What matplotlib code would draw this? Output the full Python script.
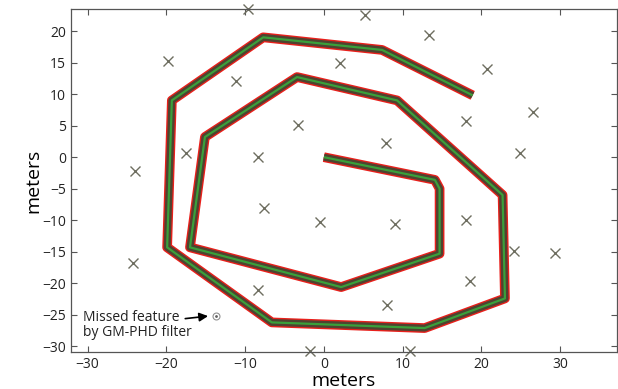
import matplotlib
matplotlib.use("Agg")
import matplotlib.pyplot as plt
import numpy as np

plt.rcParams['font.family'] = ['Open Sans', 'DejaVu Sans']

# robot trajectory (spiral), meters
path_x = [0.0, 14.1, 14.7, 14.7, 2.2, -17.0, -15.1, -3.4, 9.3, 22.7, 23.0,
          12.8, -6.6, -19.9, -19.3, -7.7, 7.4, 18.9]
path_y = [0.0, -3.6, -5.0, -15.3, -20.6, -14.3, 3.2, 12.7, 9.0, -6.0, -22.4,
          -27.1, -26.2, -14.3, 9.0, 19.0, 17.0, 9.8]

# landmark positions
lm_x = [-9.6, 5.2, 13.3, -19.8, 2.0, -11.2, 20.7, 26.5, -3.3, 18.1, -17.5,
        -8.4, 7.9, -24.0, 24.9, -7.6, -0.5, 9.1, 18.1, -24.2, 24.2, 29.3,
        18.5, -8.4, 8.0, -1.8, 10.9]
lm_y = [23.5, 22.5, 19.4, 15.2, 14.9, 12.1, 14.0, 7.1, 5.1, 5.7, 0.6,
        0.0, 2.2, -2.2, 0.6, -8.1, -10.3, -10.6, -10.0, -16.8, -14.9, -15.2,
        -19.7, -21.0, -23.5, -30.8, -30.8]

missed = (-13.7, -25.2)

fig = plt.figure(figsize=(6.18, 3.89), dpi=100)
ax = fig.add_axes([0.115, 0.095, 0.883, 0.882])

# thick red, dark band, green centre
ax.plot(path_x, path_y, color='#e8201c', lw=7, solid_joinstyle='round',
        solid_capstyle='butt')
ax.plot(path_x, path_y, color='#4f4330', lw=5, solid_joinstyle='round',
        solid_capstyle='butt')
ax.plot(path_x, path_y, color='#3aa03a', lw=1.6, solid_joinstyle='round',
        solid_capstyle='butt')

ax.plot(lm_x, lm_y, ls='none', marker='x', ms=7, mew=1.0, color='#6e6e60',
        clip_on=False)

ax.plot(*missed, ls='none', marker='o', ms=5, mfc='white', mec='#909090',
        mew=0.8)
ax.plot(*missed, ls='none', marker='.', ms=2, color='#606060')

ax.text(-30.6, -26.6, 'Missed feature\nby GM-PHD filter', fontsize=10,
        ha='left', va='center', color='#222222', linespacing=1.05)
ax.annotate('', xy=(missed[0] - 1.0, missed[1]), xytext=(-17.6, -25.6),
            arrowprops=dict(arrowstyle='-|>', color='black', lw=1.2,
                            mutation_scale=13, shrinkA=0, shrinkB=0))

ax.set_xlim(-32.1, 37.2)
ax.set_ylim(-30.9, 23.5)
ax.set_xticks([-30, -20, -10, 0, 10, 20, 30])
ax.set_yticks([-30, -25, -20, -15, -10, -5, 0, 5, 10, 15, 20])
ax.tick_params(direction='in', top=True, right=True, length=4, width=0.8,
               color='#555555', labelsize=10, labelcolor='#222222')
for s in ax.spines.values():
    s.set_color('#555555')
    s.set_linewidth(0.9)

ax.set_xlabel('meters', fontsize=14, labelpad=0)
ax.set_ylabel('meters', fontsize=14, labelpad=0)

fig.savefig('out.png', dpi=100)
